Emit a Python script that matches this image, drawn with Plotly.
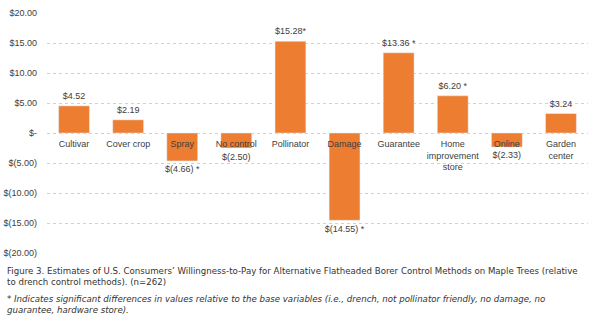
import plotly.graph_objects as go

categories = ["Cultivar", "Cover crop", "Spray", "No control", "Pollinator", "Damage",
              "Guarantee", "Home<br>improvement<br>store", "Online", "Garden<br>center"]
values = [4.52, 2.19, -4.66, -2.50, 15.28, -14.55, 13.36, 6.20, -2.33, 3.24]
value_labels = ["$4.52", "$2.19", "$(4.66) *", "$(2.50)", "$15.28*", "$(14.55) *",
                "$13.36 *", "$6.20 *", "$(2.33)", "$3.24"]
tick_vals = [20, 15, 10, 5, 0, -5, -10, -15, -20]
tick_text = ["$20.00", "$15.00", "$10.00", "$5.00", "$-", "$(5.00)", "$(10.00)", "$(15.00)", "$(20.00)"]
caption = ("Figure 3. Estimates of U.S. Consumers\u2019 Willingness-to-Pay for Alternative Flatheaded Borer Control Methods on Maple Trees (relative"
           "<br>to drench control methods). (n=262)")
footnote = ("<i>* Indicates significant differences in values relative to the base variables (i.e., drench, not pollinator friendly, no damage, no"
            "<br>guarantee, hardware store).</i>")

W, H = 600, 326
ML, MR, MT, MB = 47, 12, 13, 73
PH = H - MT - MB
PW = W - ML - MR

def py(pix):
    return (H - MB - pix) / PH

text_color = "#404040"
fig = go.Figure(go.Bar(
    x=categories, y=values,
    marker_color="#ED7D31", width=0.57, hoverinfo="skip",
))
fig.add_trace(go.Scatter(
    x=categories, y=values, mode="markers+text", text=value_labels,
    textposition=["top center" if v >= 0 else "bottom center" for v in values],
    marker=dict(size=6, opacity=0), cliponaxis=False,
    textfont=dict(size=9, color=text_color, family="Liberation Sans"),
))
fig.update_layout(
    width=W, height=H, margin=dict(l=ML, r=MR, t=MT, b=MB),
    plot_bgcolor="white", paper_bgcolor="white", showlegend=False,
    font=dict(family="Liberation Sans", size=9, color=text_color),
)
fig.update_yaxes(range=[-20, 20], tickvals=tick_vals, ticktext=tick_text,
                 showgrid=True, gridcolor="#d0d0d0", griddash="dot", gridwidth=1,
                 zeroline=False, showline=False, ticks="", ticklabelstandoff=9,
                 automargin=False, tickfont=dict(size=9, color=text_color))
fig.update_xaxes(anchor="free", position=0.5, showline=False, ticks="",
                 range=[-0.5, len(categories) - 0.5], autorange=False,
                 automargin=False,
                 showgrid=False, tickfont=dict(size=9, color=text_color),
                 ticklabelstandoff=4)
x0 = -ML / PW + 5 / PW
fig.add_annotation(text=caption, xref="paper", yref="paper", x=x0,
                   y=py(264), xanchor="left", yanchor="top", align="left", showarrow=False,
                   font=dict(family="DejaVu Sans", size=8.65, color="#333333"))
fig.add_annotation(text=footnote, xref="paper", yref="paper", x=x0,
                   y=py(292), xanchor="left", yanchor="top", align="left", showarrow=False,
                   font=dict(family="DejaVu Sans", size=8.65, color="#333333"))
fig.write_html("out.html")
